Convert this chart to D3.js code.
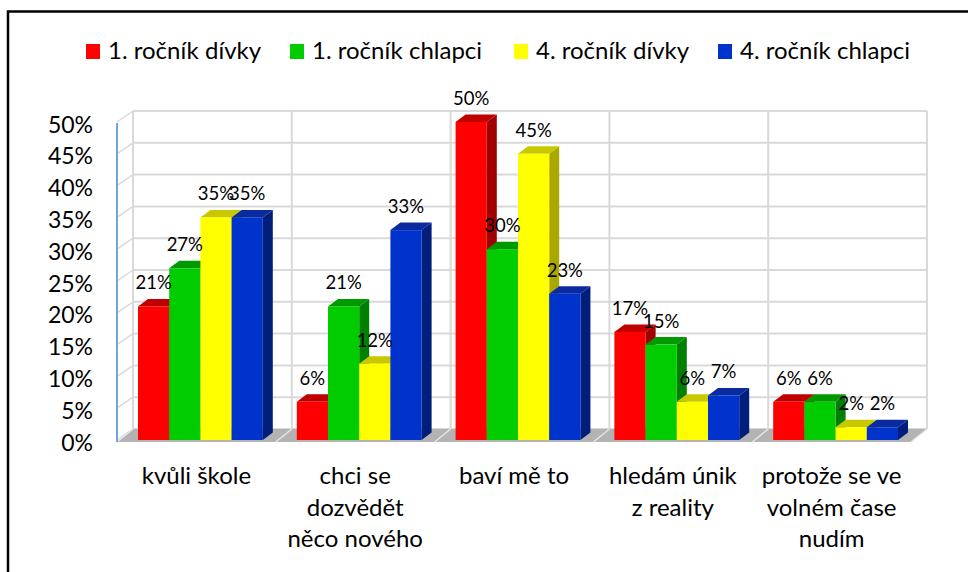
<!DOCTYPE html>
<html>
<head>
<meta charset="utf-8">
<script src="https://cdn.jsdelivr.net/npm/d3@7"></script>
<style>
  html, body { margin: 0; padding: 0; background: #fff; }
  svg { display: block; font-family: Lato, "Open Sans", sans-serif; }
</style>
</head>
<body>
<svg id="chart" width="968" height="572"></svg>
<script>
// ---- data ----
const categories = ["kvůli škole", "chci se dozvědět něco nového", "baví mě to", "hledám únik z reality", "protože se ve volném čase nudím"];
const categoryLines = [["kvůli škole"], ["chci se", "dozvědět", "něco nového"], ["baví mě to"], ["hledám únik", "z reality"], ["protože se ve", "volném čase", "nudím"]];
const series = ["1. ročník dívky", "1. ročník chlapci", "4. ročník dívky", "4. ročník chlapci"];
const girls1 = [0.21, 0.06, 0.50, 0.17, 0.06];
const boys1  = [0.27, 0.21, 0.30, 0.15, 0.06];
const girls4 = [0.35, 0.12, 0.45, 0.06, 0.02];
const boys4  = [0.35, 0.33, 0.23, 0.07, 0.02];
const yTicks = [0, 0.05, 0.10, 0.15, 0.20, 0.25, 0.30, 0.35, 0.40, 0.45, 0.50];

const values = [girls1, boys1, girls4, boys4];
const colors = {
  front: ["#FF0000", "#00CC00", "#FFFF00", "#0033CC"],
  top:   ["#C00000", "#009900", "#C8C800", "#0A2AA0"],
  side:  ["#A00000", "#007F00", "#A8A800", "#001E7A"]
};

// ---- layout ----
const svg = d3.select("#chart");
const W = 968, H = 572;
const frontL = 117, frontR = 911;
const wallDX = 16, wallDY = -11;
const barDX = 10, barDY = -7.5;

const y = d3.scaleLinear().domain([0, 0.5]).range([440, 122]);
const x0 = d3.scaleBand().domain(categories).range([frontL + 4, frontR + 4])
  .paddingInner(0.214).paddingOuter(0.107);
const x1 = d3.scaleBand().domain(series).range([0, x0.bandwidth()]);
const xc = d3.scaleBand().domain(categories).range([frontL, frontR]);

// outer frame
svg.append("rect").attr("x", 8).attr("y", 11.5).attr("width", 1000).attr("height", 700)
  .attr("fill", "none").attr("stroke", "#000").attr("stroke-width", 2.5);

const grid = "#D9D9D9";
const g = svg.append("g");

// back wall
const bx0 = frontL + wallDX, bx1 = frontR + wallDX;
g.append("rect").attr("x", bx0).attr("y", y(0.5) + wallDY).attr("width", bx1 - bx0)
  .attr("height", y(0) - y(0.5)).attr("fill", "#fff");

// horizontal gridlines on back wall + side wall diagonals
yTicks.forEach(t => {
  g.append("line").attr("x1", bx0).attr("x2", bx1)
    .attr("y1", y(t) + wallDY).attr("y2", y(t) + wallDY)
    .attr("stroke", grid).attr("stroke-width", 2);
  g.append("line").attr("x1", frontL).attr("x2", bx0)
    .attr("y1", y(t)).attr("y2", y(t) + wallDY)
    .attr("stroke", grid).attr("stroke-width", 1.5);
});
// vertical gridlines on back wall
const bounds = categories.map(c => xc(c)).concat([frontR]);
bounds.forEach(bx => {
  g.append("line").attr("x1", bx + wallDX).attr("x2", bx + wallDX)
    .attr("y1", y(0.5) + wallDY).attr("y2", y(0) + wallDY)
    .attr("stroke", grid).attr("stroke-width", 2);
});

// floor
const floorFront = y(0) + 2;
g.append("polygon")
  .attr("points", [[frontL, floorFront], [frontR, floorFront], [bx1, y(0) + wallDY], [bx0, y(0) + wallDY]].map(p => p.join(",")).join(" "))
  .attr("fill", "#B3B3B3");
bounds.forEach(bx => {
  g.append("line").attr("x1", bx).attr("y1", floorFront)
    .attr("x2", bx + wallDX).attr("y2", y(0) + wallDY)
    .attr("stroke", "#E6E6E6").attr("stroke-width", 1.5);
});

// vertical axis line
g.append("line").attr("x1", frontL).attr("x2", frontL)
  .attr("y1", y(0.5) + 1).attr("y2", floorFront)
  .attr("stroke", "#6CA6E0").attr("stroke-width", 2);

// y tick labels
const fmt = d3.format(".0%");
svg.append("g").selectAll("text").data(yTicks).join("text")
  .attr("x", 93).attr("y", d => y(d) + 10.5)
  .attr("text-anchor", "end").attr("font-size", 23).attr("fill", "#000")
  .text(d => fmt(d));

// bars
const bars = svg.append("g");
categories.forEach((c, i) => {
  series.forEach((s, j) => {
    const v = values[j][i];
    const bx = x0(c) + x1(s), w = x1.bandwidth();
    const top = y(v), bot = y(0);
    const grp = bars.append("g");
    grp.append("polygon")
      .attr("points", [[bx + w, top], [bx + w + barDX, top + barDY], [bx + w + barDX, bot + barDY], [bx + w, bot]].map(p => p.join(",")).join(" "))
      .attr("fill", colors.side[j]);
    grp.append("polygon")
      .attr("points", [[bx, top], [bx + w, top], [bx + w + barDX, top + barDY], [bx + barDX, top + barDY]].map(p => p.join(",")).join(" "))
      .attr("fill", colors.top[j]);
    grp.append("rect").attr("x", bx).attr("y", top).attr("width", w).attr("height", bot - top)
      .attr("fill", colors.front[j]);
  });
});

// value labels
const labels = svg.append("g");
categories.forEach((c, i) => {
  series.forEach((s, j) => {
    const v = values[j][i];
    labels.append("text")
      .attr("x", x0(c) + x1(s) + x1.bandwidth() / 2)
      .attr("y", y(v) - 17)
      .attr("text-anchor", "middle").attr("font-size", 18.5).attr("fill", "#000")
      .text(fmt(v));
  });
});

// category labels
const cat = svg.append("g");
categories.forEach((c, i) => {
  const t = cat.append("text").attr("text-anchor", "middle").attr("font-size", 24).attr("fill", "#000");
  categoryLines[i].forEach((line, k) => {
    t.append("tspan").attr("x", xc(c) + xc.bandwidth() / 2).attr("y", 484 + k * 31.5).text(line);
  });
});

// legend
const legendX = [86, 290, 514, 718];
const leg = svg.append("g");
series.forEach((s, j) => {
  leg.append("rect").attr("x", legendX[j]).attr("y", 44).attr("width", 14).attr("height", 15)
    .attr("fill", colors.front[j]);
  leg.append("text").attr("x", legendX[j] + 22).attr("y", 59)
    .attr("font-size", 24).attr("fill", "#000").text(s);
});
</script>
</body>
</html>
